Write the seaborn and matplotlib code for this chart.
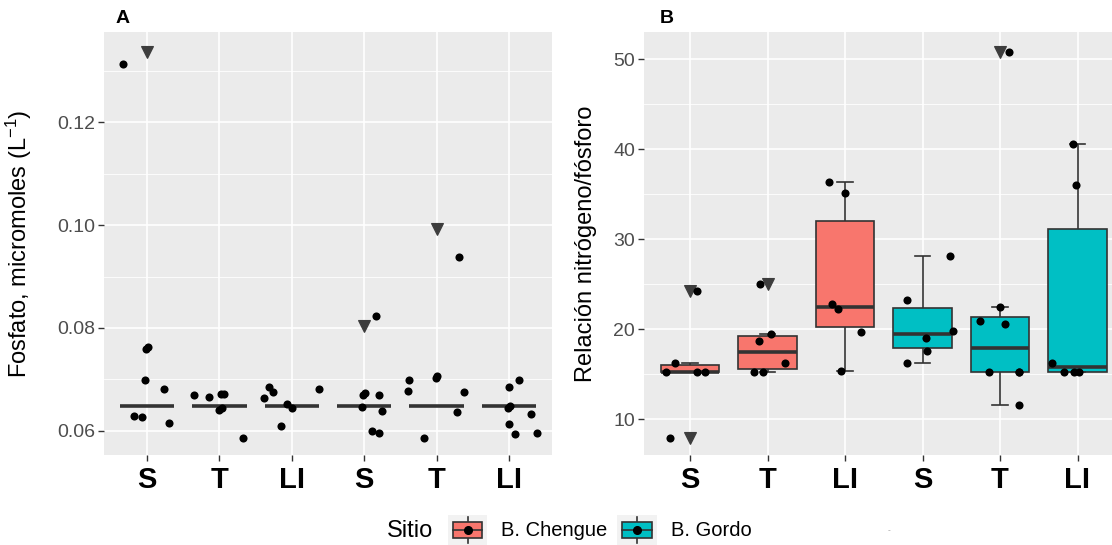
import numpy as np
import pandas as pd
import matplotlib
matplotlib.use("Agg")
import matplotlib.pyplot as plt
import seaborn as sns
from matplotlib.legend_handler import HandlerBase
from matplotlib.patches import Rectangle, Patch
from matplotlib.lines import Line2D
from matplotlib.ticker import MultipleLocator, FormatStrFormatter

# ---------------- data ----------------
groups = ["S_C", "T_C", "LI_C", "S_G", "T_G", "LI_G"]
group_labels = ["S", "T", "LI", "S", "T", "LI"]
group_site = ["B. Chengue", "B. Chengue", "B. Chengue", "B. Gordo", "B. Gordo", "B. Gordo"]
sites = ["B. Chengue", "B. Gordo"]
site_colors = ["#F8766D", "#00BFC4"]

# Panel A – phosphate (micromoles L-1)
a_box_level = [0.0648, 0.0648, 0.0648, 0.0648, 0.0648, 0.0648]
a_outliers = {"S_C": [0.1337], "T_C": [], "LI_C": [], "S_G": [0.0803], "T_G": [0.0993], "LI_G": []}
a_values = {
    "S_C": [0.1313, 0.0759, 0.0763, 0.0698, 0.0682, 0.0629, 0.0627, 0.0616],
    "T_C": [0.0669, 0.0665, 0.0672, 0.0672, 0.0641, 0.0645, 0.0586],
    "LI_C": [0.0663, 0.0686, 0.0675, 0.0610, 0.0652, 0.0645, 0.0682],
    "S_G": [0.0823, 0.0670, 0.0674, 0.0646, 0.0669, 0.0639, 0.0599, 0.0596],
    "T_G": [0.0938, 0.0698, 0.0678, 0.0703, 0.0707, 0.0675, 0.0636, 0.0586],
    "LI_G": [0.0698, 0.0685, 0.0644, 0.0648, 0.0632, 0.0613, 0.0593, 0.0596],
}
a_jitter = {
    "S_C": [-0.33, -0.012, 0.012, -0.025, 0.23, -0.18, -0.07, 0.30],
    "T_C": [-0.35, -0.14, 0.02, 0.07, -0.005, 0.03, 0.33],
    "LI_C": [-0.38, -0.31, -0.26, -0.15, -0.07, 0.0, 0.37],
    "S_G": [0.16, -0.02, 0.005, -0.025, 0.21, 0.25, 0.11, 0.21],
    "T_G": [0.31, -0.375, -0.40, -0.012, 0.012, 0.375, 0.28, -0.17],
    "LI_G": [0.14, 0.0, -0.012, 0.012, 0.30, 0.0, 0.08, 0.39],
}

# Panel B – N:P ratio
b_values = {
    "S_C": [24.3, 16.3, 15.3, 15.3, 15.3, 7.9],
    "T_C": [25.0, 19.5, 18.7, 16.3, 15.3, 15.3],
    "LI_C": [36.4, 35.1, 22.84, 22.2, 19.67, 15.33],
    "S_G": [28.1, 23.2, 19.8, 19.07, 17.6, 16.2],
    "T_G": [50.84, 20.96, 22.5, 20.55, 15.29, 15.29, 15.29, 11.56],
    "LI_G": [40.56, 36.03, 16.29, 15.29, 15.29, 15.29],
}
b_jitter = {
    "S_C": [0.09, -0.2, -0.31, 0.09, 0.19, -0.26],
    "T_C": [-0.1, 0.045, -0.11, 0.22, -0.17, -0.06],
    "LI_C": [-0.21, 0.0, -0.17, -0.095, 0.21, -0.05],
    "S_G": [0.36, -0.2, 0.39, 0.045, 0.064, -0.2],
    "T_G": [0.12, -0.26, 0.0, 0.07, -0.14, 0.24, 0.24, 0.24],
    "LI_G": [-0.064, -0.02, -0.33, -0.17, -0.05, 0.02],
}

a_title = "Fosfato, micromoles ($\\mathrm{L}^{-1}$)"
b_title = "Relación nitrógeno/fósforo"
legend_title = "Sitio"

# ---------------- style ----------------
plt.rcParams["font.family"] = ["Liberation Sans", "DejaVu Sans"]
plt.rcParams["mathtext.fontset"] = "custom"
plt.rcParams["mathtext.rm"] = "Liberation Sans"
plt.rcParams["mathtext.it"] = "Liberation Sans:italic"
plt.rcParams["mathtext.bf"] = "Liberation Sans:bold"

W, H = 1112, 545
fig = plt.figure(figsize=(W / 100, H / 100), dpi=100)

top_px, bot_px = 31.7, 455.0
axA = fig.add_axes([103.6 / W, 1 - bot_px / H, (552.4 - 103.6) / W, (bot_px - top_px) / H])
axB = fig.add_axes([643.5 / W, 1 - bot_px / H, (W - 643.5) / W, (bot_px - top_px) / H])

palette = dict(zip(sites, site_colors))
site_of = dict(zip(groups, group_site))
pos_of = {g: i for i, g in enumerate(groups)}

LINEC = "#333333"
box_kws = dict(order=groups, hue_order=sites, palette=palette, dodge=False, saturation=1,
               width=0.75, linecolor=LINEC, linewidth=1.2, legend=False,
               medianprops=dict(linewidth=2.6, color=LINEC),
               flierprops=dict(marker="v", markersize=8, markerfacecolor="#3d3d3d",
                               markeredgecolor="#3d3d3d", markeredgewidth=0.8),
               capwidths=0.2)

# ---- Panel A ----
rows = []
for g, lvl in zip(groups, a_box_level):
    for v in [lvl] * 10 + a_outliers[g]:
        rows.append((g, site_of[g], v))
dfA_box = pd.DataFrame(rows, columns=["group", "site", "value"])
sns.boxplot(data=dfA_box, x="group", y="value", hue="site", ax=axA, **box_kws)

ptsA = pd.DataFrame([(pos_of[g] + j, v) for g in groups for v, j in zip(a_values[g], a_jitter[g])],
                    columns=["x", "y"])
axA.scatter(ptsA["x"], ptsA["y"], s=34, color="black", linewidths=0, zorder=5)

# ---- Panel B ----
dfB = pd.DataFrame([(g, site_of[g], v) for g in groups for v in b_values[g]],
                   columns=["group", "site", "value"])
sns.boxplot(data=dfB, x="group", y="value", hue="site", ax=axB, **box_kws)
ptsB = pd.DataFrame([(pos_of[g] + j, v) for g in groups for v, j in zip(b_values[g], b_jitter[g])],
                    columns=["x", "y"])
axB.scatter(ptsB["x"], ptsB["y"], s=34, color="black", linewidths=0, zorder=5)

# ---- axes styling ----
def style(ax, ylim, major, minor, fmt, xlim):
    ax.set_facecolor("#EBEBEB")
    for s in ax.spines.values():
        s.set_visible(False)
    ax.set_xlim(*xlim)
    ax.set_ylim(*ylim)
    ax.yaxis.set_major_locator(MultipleLocator(major))
    ax.yaxis.set_minor_locator(MultipleLocator(minor))
    ax.yaxis.set_major_formatter(FormatStrFormatter(fmt))
    ax.set_xticks(range(len(groups)))
    ax.set_xticklabels(group_labels, fontsize=21, fontweight="bold", color="black")
    ax.tick_params(axis="y", which="major", labelsize=14, labelcolor="#4D4D4D",
                   color=LINEC, length=4, width=1.0, pad=2)
    ax.tick_params(axis="x", which="major", color=LINEC, length=4, width=1.0, pad=4)
    ax.tick_params(which="minor", length=0)
    ax.grid(which="major", color="white", linewidth=1.2)
    ax.grid(which="minor", axis="y", color="white", linewidth=0.6)
    ax.set_axisbelow(True)
    ax.set_xlabel("")

style(axA, (0.0553, 0.1376), 0.02, 0.01, "%.2f", (-0.6, 5.6))
style(axB, (6.03, 53.07), 10, 5, "%d", (-0.6, 5 + (W - 1077.5) / 77.5))

axA.set_ylabel(a_title, fontsize=17, color="black")
axB.set_ylabel(b_title, fontsize=17, color="black")
axA.yaxis.set_label_coords((34 - 103.6) / (552.4 - 103.6), 0.5)
axB.yaxis.set_label_coords((597 - 643.5) / (W - 643.5), 0.5)

axA.text((116 - 103.6) / (552.4 - 103.6), (bot_px - 23.3) / (bot_px - top_px), "A",
         transform=axA.transAxes, fontsize=14, fontweight="bold", va="baseline", ha="left")
axB.text((660 - 643.5) / (W - 643.5), (bot_px - 23.3) / (bot_px - top_px), "B",
         transform=axB.transAxes, fontsize=14, fontweight="bold", va="baseline", ha="left")

# ---- legend ----
class BoxKeyHandler(HandlerBase):
    def create_artists(self, legend, orig_handle, xdescent, ydescent, width, height, fontsize, trans):
        x0, y0 = -xdescent, -ydescent
        cx, cy = x0 + width / 2, y0 + height / 2
        bg = Rectangle((x0, y0), width, height, facecolor="#F2F2F2", edgecolor="none", transform=trans)
        wl = Line2D([cx, cx], [y0 + 0.06 * height, y0 + 0.94 * height], color=LINEC, lw=1.2, transform=trans)
        box = Rectangle((x0 + 0.12 * width, y0 + 0.25 * height), 0.76 * width, 0.5 * height,
                        facecolor=orig_handle.get_facecolor(), edgecolor=LINEC, lw=1.2, transform=trans)
        med = Line2D([x0 + 0.12 * width, x0 + 0.88 * width], [cy, cy], color=LINEC, lw=1.2, transform=trans)
        dot = Line2D([cx], [cy], marker="o", color="black", markersize=5.5, linestyle="none", transform=trans)
        return [bg, wl, box, med, dot]

handles = [Patch(facecolor=c) for c in site_colors]
fig.legend(handles, sites, loc="center left", bbox_to_anchor=(448 / W, 1 - 530 / H), ncol=2,
           frameon=False, fontsize=14.5, handlelength=1.94, handleheight=1.94,
           handletextpad=0.7, columnspacing=0.5, borderpad=0, borderaxespad=0,
           handler_map={Patch: BoxKeyHandler()})
fig.text(387 / W, 1 - 531 / H, legend_title, fontsize=17, va="center", ha="left")
fig.text(889 / W, 1 - 531 / H, "-", fontsize=6, color="#9a9a9a", va="center", ha="center")

fig.savefig("out.png", dpi=100)
